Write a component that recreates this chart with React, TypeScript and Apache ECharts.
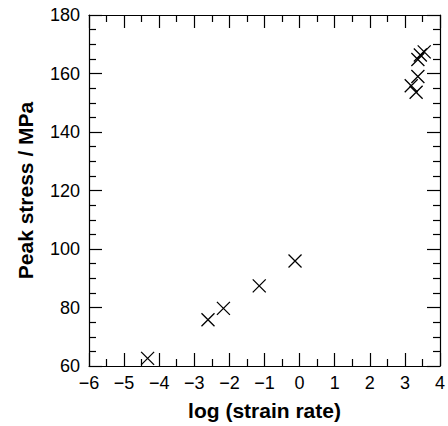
import React, { useEffect, useRef } from "react";
import * as echarts from "echarts";

const logStrainRate = [-4.33, -2.61, -2.17, -1.15, -0.13, 3.18, 3.32, 3.37, 3.37, 3.44, 3.55];
const peakStress = [62.6, 75.8, 79.7, 87.4, 95.9, 155.8, 153.6, 159.0, 164.8, 166.3, 167.4];
const xTitle = "log (strain rate)";
const yTitle = "Peak stress / MPa";

const FONT = "'Liberation Sans', Arial, Helvetica, sans-serif";

export default function App() {
  const ref = useRef<HTMLDivElement>(null);
  useEffect(() => {
    if (!ref.current) return;
    const chart = echarts.init(ref.current, undefined, { renderer: "svg" });
    const line = { show: true, onZero: false, lineStyle: { color: "#000", width: 1.2 } };
    const baseX = {
      type: "value",
      min: -6,
      max: 4,
      interval: 1,
      axisLine: line,
      axisTick: { show: true, inside: true, length: 13, lineStyle: { color: "#000", width: 1.2 } },
      minorTick: { show: true, splitNumber: 2, length: 7, lineStyle: { color: "#000", width: 1.2 } },
      splitLine: { show: false },
    };
    const baseY = {
      type: "value",
      min: 60,
      max: 180,
      interval: 20,
      axisLine: line,
      axisTick: { show: true, inside: true, length: 13, lineStyle: { color: "#000", width: 1.2 } },
      minorTick: { show: true, splitNumber: 4, length: 7, lineStyle: { color: "#000", width: 1.2 } },
      splitLine: { show: false },
    };
    chart.setOption({
      animation: false,
      backgroundColor: "#fff",
      grid: { left: 89, right: 4, top: 15, bottom: 59 },
      xAxis: [
        {
          ...baseX,
          position: "bottom",
          axisLabel: {
            color: "#000",
            fontFamily: FONT,
            fontSize: 18,
            margin: 8,
            formatter: (v: number) => (v < 0 ? "\u2212" + Math.abs(v) : String(v)),
          },
          name: xTitle,
          nameLocation: "middle",
          nameGap: 34,
          nameTextStyle: { color: "#000", fontFamily: FONT, fontSize: 21, fontWeight: "bold" },
        },
        { ...baseX, position: "top", axisLabel: { show: false } },
      ],
      yAxis: [
        {
          ...baseY,
          position: "left",
          axisLabel: { color: "#000", fontFamily: FONT, fontSize: 18, margin: 9 },
          name: yTitle,
          nameLocation: "middle",
          nameGap: 53,
          nameTextStyle: { color: "#000", fontFamily: FONT, fontSize: 21, fontWeight: "bold" },
        },
        { ...baseY, position: "right", axisLabel: { show: false } },
      ],
      series: [
        {
          type: "scatter",
          xAxisIndex: 0,
          yAxisIndex: 0,
          data: logStrainRate.map((x, i) => [x, peakStress[i]]),
          symbol: "path://M0,0L10,10M10,0L0,10",
          symbolSize: 13,
          itemStyle: { color: "none", borderColor: "#000", borderWidth: 1.3, opacity: 1 },
        },
      ],
    });
    return () => chart.dispose();
  }, []);
  return (
    <div
      ref={ref}
      style={{ position: "fixed", left: 0, top: 0, width: 448, height: 426, background: "#fff" }}
    />
  );
}
